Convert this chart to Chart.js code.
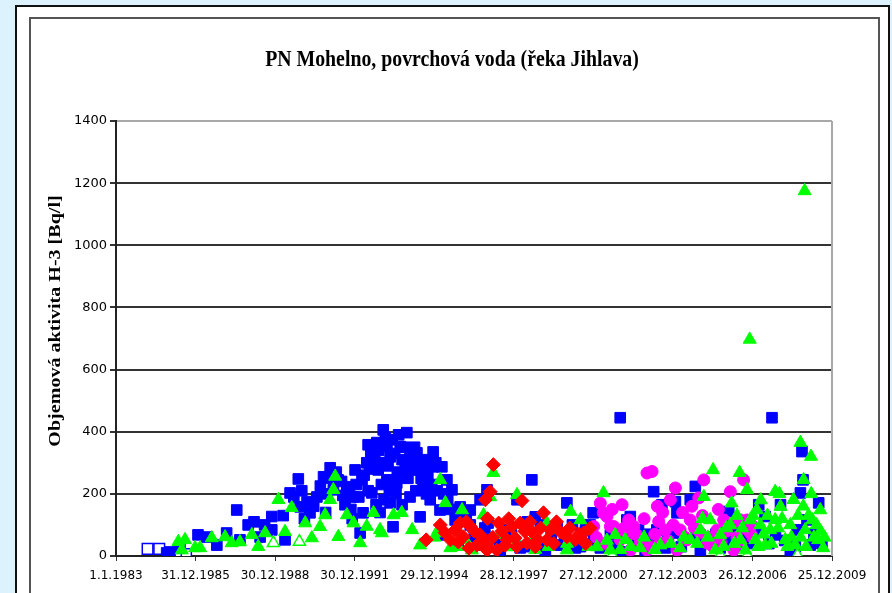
<!DOCTYPE html>
<html><head><meta charset="utf-8">
<script src="https://cdn.jsdelivr.net/npm/chart.js@4"></script>
<style>html,body{margin:0;padding:0;background:#dcf2fc;overflow:hidden}#wrap{position:absolute;left:0;top:0;width:892px;height:593px}</style>
</head><body><div id="wrap"><canvas id="c" width="892" height="593"></canvas></div>
<script>
const chartTitle = 'PN Mohelno, povrchová voda (řeka Jihlava)';
const yAxisTitle = 'Objemová aktivita H-3 [Bq/l]';
const xTickLabels = ['1.1.1983','31.12.1985','30.12.1988','30.12.1991','29.12.1994','28.12.1997','27.12.2000','27.12.2003','26.12.2006','25.12.2009'];
const xTickDates = [[1983,1,1],[1985,12,31],[1988,12,30],[1991,12,30],[1994,12,29],[1997,12,28],[2000,12,27],[2003,12,27],[2006,12,26],[2009,12,25]];
const yTickValues = [0,200,400,600,800,1000,1200,1400];

// [decimal year, Bq/l]
const blueFilled = [[1984.91,10],[1985.04,13],[1985.41,26],[1986.09,68],[1986.42,61],[1986.80,35],[1987.17,74],[1987.55,148],[1987.67,52],[1987.98,100],
[1988.43,61],[1988.87,127],[1988.87,84],[1989.37,52],[1989.56,203],[1989.87,248],[1989.94,158],[1990.31,139],[1990.57,190],[1990.82,255],
[1991.07,284],[1991.19,213],[1991.70,223],[1991.94,190],[1992.20,74],[1992.31,139],[1992.45,300],[1992.64,203],[1992.83,365],[1993.07,406],
[1993.33,319],[1993.44,94],[1993.33,171],[1993.96,397],[1993.21,353],[1993.71,352],[1994.34,332],[1994.95,335],[1995.28,287],[1995.47,245],
[1995.66,213],[1995.97,158],[1994.46,126],[1994.08,190],[1994.57,223],[1994.20,277],[1993.21,245],[1993.58,235],[1994.95,287],[1996.03,139],
[1996.98,213],[1996.72,181],[1997.02,106],[1998.67,245],[1999.99,171],[1998.11,181],[1998.80,126],[1999.62,94],[2002.00,445],[2000.98,139],
[2002.25,116],[2007.72,445],[2008.85,336],[2008.89,245],[2008.79,203],[2003.26,207],[2003.57,165],[2004.08,175],[2004.83,224],[2004.64,181],
[2006.09,143],[2007.22,165],[2008.04,165],[2009.48,171],[2002.38,127],[2002.69,84],[2003.38,84],[2004.14,139],[2004.00,74],[2004.38,52],
[2007.15,84],[2007.46,127],[2008.66,84],[2009.04,116],[1992.50,358],[1992.65,326],[1992.88,277],[1993.41,374],[1993.78,310],[1994.08,326],
[1994.46,277],[1994.69,310],[1992.27,245],[1992.01,277],[1991.63,165],[1991.37,245],[1992.80,165],[1993.10,181],[1993.78,165],[1994.84,181],
[1995.21,148],[1995.78,116],[1996.35,100],[1995.40,68],[1996.72,35],[1997.48,19],[1998.23,26],[1999.18,19],[1999.74,35],[2000.31,26],
[2001.25,26],[2002.00,13],[2002.94,19],[2003.70,26],[2005.02,19],[2005.77,26],[2006.53,35],[2008.41,19],[2009.16,35],[1995.89,35],
[1997.67,84],[1998.99,100],[2000.69,84],[2001.63,68],[2003.13,52],[2006.34,84],[2007.85,68],[1997.10,52],[1996.35,148],[2000.87,100],
[1989.70,190],[1990.00,210],[1990.20,175],[1990.45,160],[1990.70,225],[1990.95,200],[1991.10,250],[1991.30,270],[1991.50,240],[1991.55,195],
[1991.80,210],[1991.85,150],[1992.05,230],[1992.15,190],[1992.35,260],[1992.55,280],[1992.60,330],[1992.75,310],[1992.90,340],[1993.00,300],
[1993.15,380],[1993.25,290],[1993.50,330],[1993.60,270],[1993.65,390],[1993.85,350],[1993.90,280],[1994.00,250],[1994.10,300],[1994.25,350],
[1994.40,300],[1994.50,250],[1994.60,280],[1994.75,260],[1994.90,230],[1995.05,300],[1995.10,210],[1995.35,200],[1995.50,180],[1995.60,150],
[1995.85,140],[1996.20,120],[1993.00,230],[1993.30,210],[1992.50,210],[1992.95,140],[1993.55,200],[1994.30,210],[1994.70,200],[1991.90,120],
[1990.90,140],[1990.10,120],[1989.30,130],[1988.60,100],[1988.20,110],
[1996.50,60],[1996.90,90],[1997.30,45],[1997.90,70],[1998.40,30],[1998.50,110],[1999.00,40],[1999.40,60],[1999.90,40],[2000.20,100],
[2000.50,30],[2001.00,50],[2001.45,40],[2001.90,30],[2002.50,40],[2003.00,70],[2003.80,50],[2004.30,30],[2004.90,60],[2005.30,40],
[2005.60,70],[2006.00,50],[2006.70,60],[2007.00,40],[2007.60,40],[2008.20,50],[2008.60,30],[2009.30,70],[2009.60,40]];
const blueHollow = [[1984.19,23],[1984.63,23],[1985.64,6],[1985.26,2]];
const greenFilled = [[1985.35,46],[1985.60,52],[1985.48,19],[1985.98,26],[1986.17,26],[1986.61,58],[1987.11,61],[1987.36,42],[1987.67,45],[1988.12,68],
[1988.36,30],[1988.62,74],[1989.12,181],[1989.37,78],[1989.62,155],[1990.13,106],[1990.38,58],[1990.69,94],[1990.88,132],[1991.07,181],
[1991.26,256],[1991.19,213],[1991.38,62],[1991.70,132],[1991.95,106],[1992.20,42],[1992.45,95],[1992.70,139],[1992.95,84],[1993.46,132],
[1993.77,139],[1993.02,74],[1995.22,245],[1995.41,171],[1996.04,148],[1995.15,84],[1995.34,74],[1997.22,268],[1997.10,190],[1996.85,132],
[1998.11,197],[2000.13,143],[2001.37,203],[1999.24,106],[1996.41,19],[1997.10,29],[1997.97,29],[1998.61,42],[2000.50,52],[2001.12,29],
[1999.99,19],[2001.63,19],[2006.88,697],[2008.79,365],[2009.19,320],[2005.50,277],[2006.50,268],[2006.78,213],[2007.84,207],[2008.91,245],
[2008.53,181],[2009.54,148],[2005.15,191],[2007.15,148],[2008.04,159],[2008.95,1175],[2004.64,52],[2005.02,84],[2005.39,116],[2005.77,68],
[2006.15,100],[2006.53,52],[2006.90,116],[2007.09,52],[2007.28,100],[2007.46,35],[2007.65,84],[2007.84,116],[2008.22,52],[2008.41,100],
[2008.60,35],[2008.97,84],[2009.24,116],[2009.46,52],[2009.65,26],[2006.71,19],[2005.58,19],[2004.26,26],[2003.51,35],[2002.75,26],
[2002.19,52],[2001.81,68],[2000.50,116],[1999.56,84],[1998.23,100],[1997.48,68],[1996.16,52],[1995.60,26],[1994.46,35],[1994.16,84],
[2004.90,40],[2005.10,120],[2005.30,60],[2005.90,30],[2006.00,90],[2006.30,40],[2006.40,130],[2006.60,90],[2007.00,130],[2007.20,30],
[2007.40,70],[2007.55,130],[2007.70,40],[2007.95,90],[2008.10,120],[2008.30,30],[2008.45,60],[2008.70,130],[2008.80,60],[2009.00,30],
[2009.10,130],[2009.30,60],[2009.40,100],[2009.55,80],[2009.70,60],[2008.90,160],[2009.20,200],[2006.20,170],[2007.30,180],[2008.00,200],
[2000.00,40],[2000.80,30],[2001.50,50],[2002.00,20],[2002.40,30],[2002.90,60],[2003.30,20],[2003.90,40],[2004.40,60],[1999.30,30],
[1998.80,20],[1998.00,60],[1996.70,45],[1995.90,30],[1995.00,60]];
const greenHollow = [[1988.93,42],[1989.91,46],[2001.70,2],[2005.77,2],[2006.79,2],[2008.68,2]];
const redDiamond = [[1997.22,294],[1997.10,207],[1996.92,181],[1998.30,178],[1995.97,106],[1996.35,95],[1995.60,52],[1996.09,62],[1996.60,35],[1996.98,19],
[1997.42,106],[1997.73,52],[1997.92,95],[1998.23,106],[1998.67,78],[1999.11,139],[1999.24,52],[1999.74,78],[1999.99,62],[2000.62,74],
[2000.87,90],[1997.35,19],[1998.48,42],[1994.69,52],[1995.22,100],[1995.78,84],[1996.72,68],[1997.67,35],[1998.04,58],[1998.91,52],
[1999.37,84],[2000.31,52],[1995.40,75],[1995.90,45],[1996.20,110],[1996.50,80],[1996.80,50],[1997.00,120],[1997.20,60],[1997.55,80],
[1997.80,120],[1998.10,30],[1998.40,80],[1998.60,110],[1998.80,30],[1999.00,90],[1999.50,40],[1999.60,110],[2000.10,90],[2000.45,70],
[2000.70,40],[1996.30,25],[1997.00,30]];
const magentaCircle = [[2001.25,170],[2002.07,165],[2001.50,127],[2001.75,95],[2002.25,62],[2001.00,95],[2001.36,139],[2003.01,267],[2003.20,272],[2004.08,219],
[2003.89,181],[2004.96,187],[2005.15,245],[2006.15,207],[2006.65,245],[2002.32,116],[2002.51,95],[2001.63,95],[2001.88,74],[2002.75,42],
[2003.13,30],[2003.45,111],[2003.70,84],[2003.51,42],[2004.26,84],[2004.64,116],[2004.51,52],[2005.02,74],[2005.27,42],[2005.65,84],
[2005.90,116],[2006.28,106],[2006.53,116],[2006.78,116],[2006.90,74],[2006.53,42],[2006.28,19],[2002.38,19],[2003.01,19],[2004.14,19],
[2005.50,30],[2002.00,52],[2001.10,60],[2001.40,40],[2001.70,150],[2002.15,90],[2002.60,70],[2002.90,120],[2003.30,70],[2003.60,140],
[2003.80,50],[2004.00,100],[2004.35,140],[2004.45,60],[2004.80,90],[2005.10,130],[2005.40,60],[2005.80,40],[2006.00,80],[2006.40,60],
[2006.70,90],[2007.00,60],[2006.95,100],[2005.70,150],[2004.70,160],[2003.40,160]];

function decYear(a){const y=a[0];const t=Date.UTC(y,a[1]-1,a[2]);const s=Date.UTC(y,0,1),e=Date.UTC(y+1,0,1);return y+(t-s)/(e-s);}
const xTickValues = xTickDates.map(decYear);
const pts = arr => arr.map(p => ({x:p[0], y:p[1]}));

const frame = {
  id:'frame',
  beforeDraw(chart){
    const c = chart.ctx;
    c.save();
    c.fillStyle='#dcf2fc'; c.fillRect(0,0,892,593);
    c.fillStyle='#fff'; c.fillRect(15,5,875,600);
    c.strokeStyle='#111'; c.lineWidth=2; c.strokeRect(16,6,873,600);
    c.strokeStyle='#555'; c.lineWidth=2; c.strokeRect(30,18,849,600);
    c.fillStyle='#000'; c.textAlign='center'; c.textBaseline='middle';
    c.save(); c.translate(452,60); c.scale(0.9,1.08);
    c.font='bold 22px "Liberation Serif", "Times New Roman", serif';
    c.fillText(chartTitle,0,0); c.restore();
    c.save(); c.translate(56,321); c.rotate(-Math.PI/2); c.scale(1.18,1);
    c.font='bold 17px "Liberation Serif", "Times New Roman", serif';
    c.fillText(yAxisTitle,0,0); c.restore();
    c.restore();
  },
  afterDraw(chart){
    const a = chart.chartArea, c = chart.ctx;
    c.save(); c.strokeStyle='#a8a8a8'; c.lineWidth=2;
    c.beginPath(); c.moveTo(a.right,a.top); c.lineTo(a.right,a.bottom); c.stroke(); c.restore();
  }
};

new Chart(document.getElementById('c'), {
  type:'scatter',
  data:{datasets:[
    {data:pts(redDiamond), pointStyle:'rectRot', pointRadius:7, backgroundColor:'#ff0000', borderColor:'#ff0000', borderWidth:1},
    {data:pts(greenFilled), pointStyle:'triangle', pointRadius:7.5, backgroundColor:'#00ff00', borderColor:'#00ff00', borderWidth:1},
    {data:pts(greenHollow), pointStyle:'triangle', pointRadius:7, backgroundColor:'#ffffff', borderColor:'#00ff00', borderWidth:1.5},
    {data:pts(magentaCircle), pointStyle:'circle', pointRadius:6, backgroundColor:'#ff00ff', borderColor:'#ff00ff', borderWidth:1},
    {data:pts(blueFilled), pointStyle:'rect', pointRadius:7.5, backgroundColor:'#0000ff', borderColor:'#0000ff', borderWidth:1},
    {data:pts(blueHollow), pointStyle:'rect', pointRadius:7.5, backgroundColor:'#ffffff', borderColor:'#0000ff', borderWidth:1.5}
  ]},
  options:{
    responsive:false, devicePixelRatio:1, animation:false,
    layout:{padding:{left:0,right:60,top:121,bottom:0}},
    plugins:{legend:{display:false}, tooltip:{enabled:false}, title:{display:false}},
    scales:{
      x:{type:'linear', min:xTickValues[0], max:xTickValues[xTickValues.length-1],
        afterBuildTicks(s){ s.ticks = xTickValues.map(v=>({value:v})); },
        afterFit(s){ s.height = 37; },
        ticks:{autoSkip:false, maxRotation:0, padding:8, color:'#000',
          font:{family:'"DejaVu Sans", sans-serif', size:12},
          callback:(v,i)=>xTickLabels[i]},
        grid:{drawOnChartArea:false, tickLength:5, color:'#333', lineWidth:1},
        border:{color:'#222', width:2}
      },
      y:{min:0, max:1400,
        afterBuildTicks(s){ s.ticks = yTickValues.map(v=>({value:v})); },
        afterFit(s){ s.width = 116; },
        ticks:{padding:3, color:'#000', font:{family:'"DejaVu Sans", sans-serif', size:13}, callback:v=>String(v)},
        grid:{tickLength:6, lineWidth:2, color:ctx=>(ctx.tick && ctx.tick.value===1400)?'#a8a8a8':'#333', tickColor:'#333'},
        border:{color:'#222', width:2}
      }
    }
  },
  plugins:[frame]
});
</script></body></html>
